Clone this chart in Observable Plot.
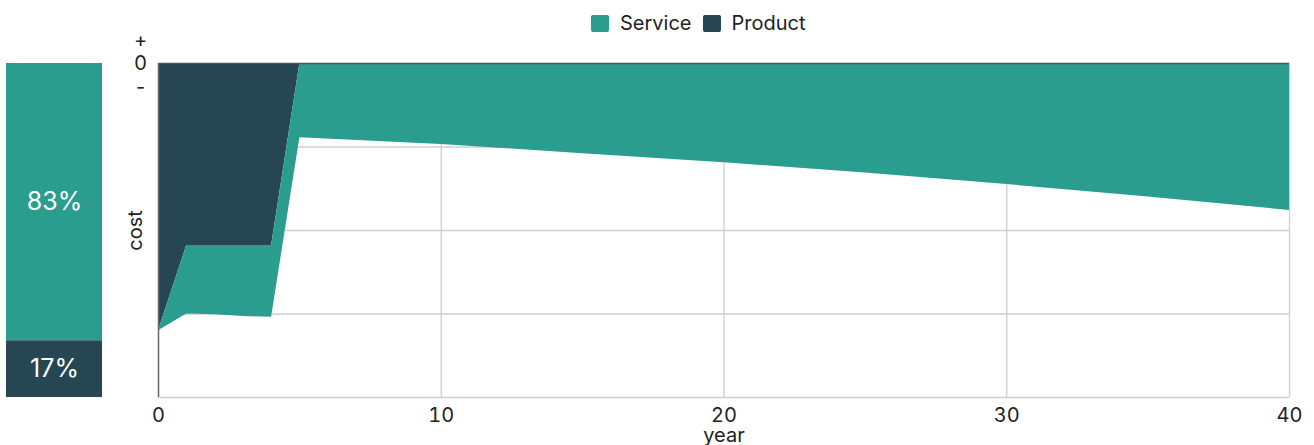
<!DOCTYPE html>
<html><head><meta charset="utf-8">
<script src="https://cdn.jsdelivr.net/npm/d3@7"></script>
<script src="https://cdn.jsdelivr.net/npm/@observablehq/plot@0.6"></script>
<style>
html,body{margin:0;padding:0;background:#fff;overflow:hidden;}
body{font-family:Inter, sans-serif;color:#222;width:1314px;height:445px;position:relative;}
#legend{position:absolute;left:591px;top:12px;display:flex;align-items:center;font-size:20px;line-height:22px;}
.sw{width:18px;height:17px;border-radius:2px;display:inline-block;margin-right:11px;}
.it{display:flex;align-items:center;margin-right:11px;}
#main,#share{position:absolute;top:0;left:0;}
</style></head><body>
<div id="share"></div><div id="main"></div><div id="legend"></div>
<script>
// ---- data ----
const types = ["Service", "Product"];
const colors = ["#2A9D8F", "#264653"];
const years = [0, 1, 2, 3, 4, 5, 10, 15, 20, 25, 30, 35, 40];
const productCost = [3.2, 2.18, 2.18, 2.18, 2.18, 0, 0, 0, 0, 0, 0, 0, 0];
const serviceCost = [0, 0.82, 0.83, 0.85, 0.86, 0.89, 0.97, 1.08, 1.19, 1.31, 1.45, 1.60, 1.76];
const shareTypes = ["Product", "Service"];
const shareValues = [0.17, 0.83];
const shareText = ["17%", "83%"];
const signLabels = ["+", "0", "-"];
const signValues = [0.28, 0, -0.29];
const xTicks = [0, 10, 20, 30, 40];
const yGrid = [-1, -2, -3, -4];

// ---- tables (costs stacked downward from zero: Product first, then Service) ----
const rows = [];
years.forEach((y, i) => {
  const p = productCost[i], s = serviceCost[i];
  rows.push({year: y, type: "Product", y1: 0, y2: -p});
  rows.push({year: y, type: "Service", y1: -p, y2: -(p + s)});
});
const shareRows = shareTypes.map((k, i) => ({k, v: shareValues[i], t: shareText[i]}));
const signRows = signLabels.map((t, i) => ({t, v: signValues[i]}));

const font = {fontFamily: "Inter, sans-serif", fontSize: "20px", color: "#222", background: "transparent"};

const main = Plot.plot({
  width: 1314, height: 445,
  marginTop: 63, marginLeft: 158, marginRight: 25, marginBottom: 48,
  style: font,
  x: {domain: [0, 40]},
  y: {domain: [-4, 0], axis: null},
  color: {domain: types, range: colors},
  marks: [
    Plot.gridX(xTicks.slice(1), {stroke: "#cfcfcf", strokeOpacity: 1, strokeWidth: 1.3}),
    Plot.gridY(yGrid, {stroke: "#cfcfcf", strokeOpacity: 1, strokeWidth: 1.3}),
    Plot.areaY(rows, {x: "year", y1: "y1", y2: "y2", fill: "type", z: "type"}),
    Plot.ruleY([0], {stroke: "#555", strokeWidth: 1.5}),
    Plot.ruleX([0], {stroke: "#666", strokeWidth: 1.5}),
    Plot.axisX(xTicks, {tickSize: 0, tickPadding: 10, label: "year", labelAnchor: "center", labelArrow: "none", labelOffset: 44}),
    Plot.axisY([], {tickSize: 0, label: "cost", labelAnchor: "center", labelArrow: "none", labelOffset: 31}),
    Plot.text(signRows, {x: 0, y: "v", text: "t", dx: -18, textAnchor: "middle", fontSize: 20, fill: "#222"})
  ]
});
document.getElementById("main").appendChild(main);

const share = Plot.plot({
  width: 110, height: 445,
  marginTop: 63, marginBottom: 48, marginLeft: 6, marginRight: 8,
  style: font,
  y: {domain: [0, 1], axis: null},
  color: {domain: types, range: colors},
  marks: [
    Plot.barY(shareRows, Plot.stackY({y: "v", fill: "k", z: "k", order: shareTypes})),
    Plot.text(shareRows, Plot.stackY({y: "v", z: "k", text: "t", order: shareTypes, fill: "white", fontSize: 25}))
  ]
});
document.getElementById("share").appendChild(share);

const legend = document.getElementById("legend");
types.forEach((t, i) => {
  const it = document.createElement("div");
  it.className = "it";
  const sw = document.createElement("span");
  sw.className = "sw";
  sw.style.background = colors[i];
  it.appendChild(sw);
  it.appendChild(document.createTextNode(t));
  legend.appendChild(it);
});
</script>
</body></html>
